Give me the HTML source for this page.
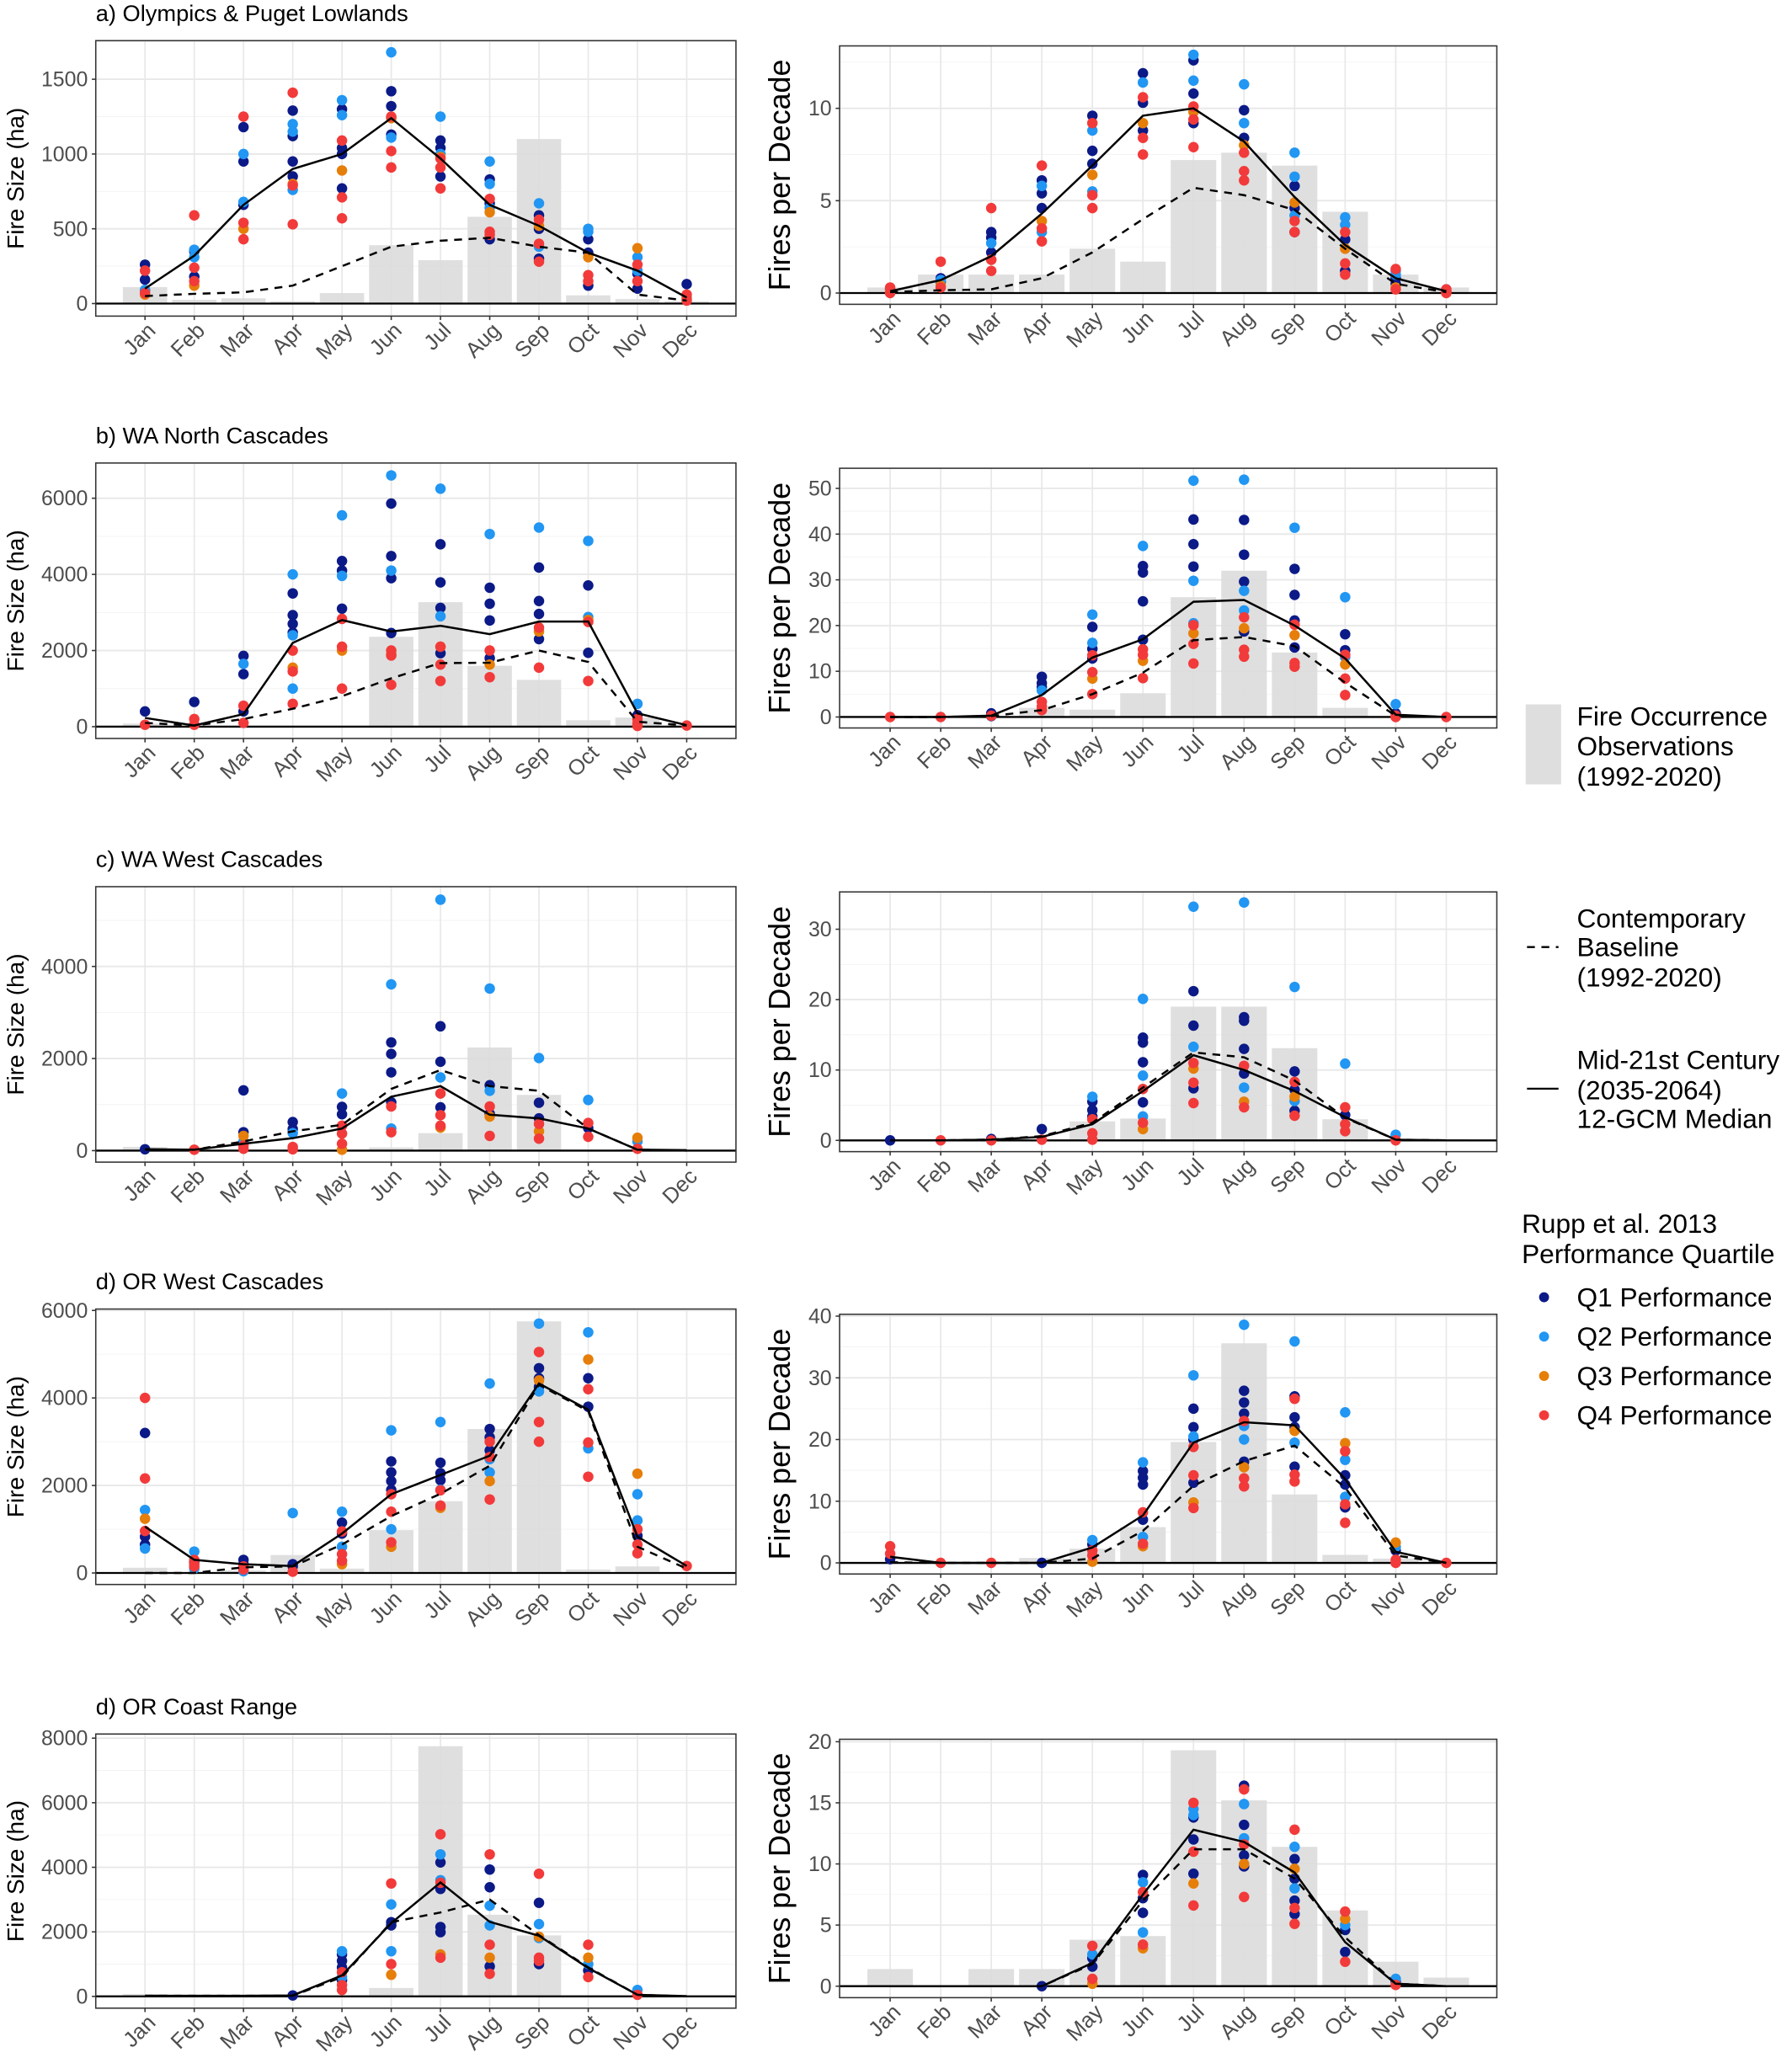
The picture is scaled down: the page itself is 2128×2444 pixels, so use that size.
<!DOCTYPE html>
<html><head><meta charset="utf-8"><style>
html,body{margin:0;padding:0;background:#fff;}
svg{display:block;font-family:"Liberation Sans",Arial,sans-serif;}
</style></head><body>
<svg id="fig" xmlns="http://www.w3.org/2000/svg" width="2128" height="2444" viewBox="0 0 1366 1569" preserveAspectRatio="none">
<rect x="0" y="0" width="1366" height="1569" fill="#fff"/>
<g id="panels"></g>
<g id="legend">
 <rect x="1163" y="537" width="27" height="61" fill="#dedede"/>
 <text font-size="20.3" fill="#000"><tspan x="1202" y="553">Fire Occurrence</tspan><tspan x="1202" y="576">Observations</tspan><tspan x="1202" y="599">(1992-2020)</tspan></text>
 <line x1="1164" y1="722" x2="1188" y2="722" stroke="#000" stroke-width="1.5" stroke-dasharray="6,5"/>
 <text font-size="20.3" fill="#000"><tspan x="1202" y="707">Contemporary</tspan><tspan x="1202" y="729">Baseline</tspan><tspan x="1202" y="752">(1992-2020)</tspan></text>
 <line x1="1164" y1="830" x2="1188" y2="830" stroke="#000" stroke-width="1.5"/>
 <text font-size="20.3" fill="#000"><tspan x="1202" y="815">Mid-21st Century</tspan><tspan x="1202" y="838">(2035-2064)</tspan><tspan x="1202" y="860">12-GCM Median</tspan></text>
 <text font-size="20.3" fill="#000"><tspan x="1160" y="940">Rupp et al. 2013</tspan><tspan x="1160" y="963">Performance Quartile</tspan></text>
 <circle cx="1177" cy="989" r="3.8" fill="#0b1a87"/>
 <text x="1202" y="996" font-size="20.3">Q1 Performance</text>
 <circle cx="1177" cy="1019" r="3.8" fill="#2196f3"/>
 <text x="1202" y="1026" font-size="20.3">Q2 Performance</text>
 <circle cx="1177" cy="1049" r="3.8" fill="#e67e0a"/>
 <text x="1202" y="1056" font-size="20.3">Q3 Performance</text>
 <circle cx="1177" cy="1079" r="3.8" fill="#f23a3a"/>
 <text x="1202" y="1086" font-size="20.3">Q4 Performance</text>
</g>
</svg>
<script>
const months=["Jan","Feb","Mar","Apr","May","Jun","Jul","Aug","Sep","Oct","Nov","Dec"];
const aL_bars=[110,25,35,15,70,390,290,580,1100,55,30,15];
const aL_base=[50,65,75,120,250,380,420,440,380,340,60,20];
const aL_fut=[100,320,660,900,1000,1240,970,660,520,340,220,40];
const aL_q1=[[260,160,90],[350,180],[1180,950,660],[1290,1120,950,850],[1300,1040,770,1000],[1420,1320,1130],[1090,1040,850],[830,670,430],[590,500,300],[430,340,120],[200,100],[130]];
const aL_q2=[[90],[360,310],[1000,680],[1200,1150,760],[1360,1260],[1680,1240,1110],[1250,1000],[950,800,640],[670,380],[500,480],[310,220],[40]];
const aL_q3=[[60],[120],[500],[800],[890],[1240],[980],[610],[520],[310],[370],[30]];
const aL_q4=[[220,70],[590,240,150],[1250,540,430],[1410,790,530],[1090,710,570],[1250,1020,910],[970,910,770],[700,480,460],[560,400,280],[190,150],[260,150],[60,20]];
const aR_bars=[0.3,1.0,1.0,1.0,2.4,1.7,7.2,7.6,6.9,4.4,1.0,0.3];
const aR_base=[0.05,0.15,0.2,0.8,2.2,4.0,5.7,5.3,4.5,2.4,0.5,0.05];
const aR_fut=[0.1,0.7,2.0,4.3,6.9,9.6,10.0,8.2,5.2,2.6,0.8,0.1];
const aR_q1=[[0.2],[0.8,0.6],[3.3,3.0,2.2],[6.1,5.4,4.6],[9.6,7.7,7.0],[11.9,10.3,8.8],[12.6,10.8,9.2],[9.9,8.4],[5.8,4.6,3.3],[2.9,1.2],[0.8,0.5],[0.1]];
const aR_q2=[[0.2],[0.7],[2.7],[5.8,3.3],[8.8,5.5],[11.4],[12.9,11.5],[11.3,9.2],[7.6,6.3,4.2],[4.1,3.7],[1.2,1.0],[0.2]];
const aR_q3=[[0.1],[0.4],[1.8],[3.9],[6.4],[9.2],[9.8],[8.0],[4.9],[2.4],[0.3],[0.1]];
const aR_q4=[[0.3,0.0],[1.7,0.3],[4.6,1.8,1.2],[6.9,3.5,2.8],[9.2,5.3,4.6],[10.6,8.4,7.5],[10.1,9.4,7.9],[7.6,6.6,6.1],[3.9,3.3],[3.3,1.6,1.0],[1.3,0.2],[0.2,0]];
const bL_bars=[80,0,0,0,20,2360,3270,1600,1230,170,240,0];
const bL_base=[100,30,200,470,800,1270,1670,1680,2000,1700,130,30];
const bL_fut=[230,30,330,2200,2800,2500,2650,2430,2760,2760,350,40];
const bL_q1=[[400],[650],[1860,1380,400],[3500,2930,2700,2470],[4350,4100,3100],[5860,4480,3900,2460],[4790,3790,3120,1930],[3650,3230,2790,1800],[4180,3300,2960,2300],[3710,1940],[300],[]];
const bL_q2=[[],[],[1650],[4000,2400,1000],[5550,3960],[6600,4100],[6250,2900],[5060],[5230],[4880,2880],[600],[]];
const bL_q3=[[],[],[],[1550],[2000],[1900],[2100],[1630],[2500],[2800],[],[]];
const bL_q4=[[50],[200,50],[550,100],[2000,1450,600],[2830,2100,1000],[2000,1870,1100],[2100,1630,1200],[2000,1300],[2600,1550],[2750,1200],[200,80,20],[30]];
const bR_bars=[0,0,0,2.0,1.6,5.2,26.2,32,14.1,2.0,0,0];
const bR_base=[0,0,0.2,1.5,5,9.7,16.8,17.5,15.5,7.5,0.3,0];
const bR_fut=[0,0,0.3,4.8,13,17,25.2,25.6,20,12.8,0.5,0];
const bR_q1=[[],[],[0.8,0.2],[8.8,7.4,6.5],[19.7,14.9,12.8],[33.0,31.6,25.3,16.9],[43.2,37.8,32.9],[43.1,35.5,29.6,18.7],[32.4,26.7,21.1,15.2],[18.1,14.6],[0.8],[]];
const bR_q2=[[],[],[],[5.8],[22.4,16.2],[37.4],[51.7,29.8,20.5],[51.9,27.6,23.3],[41.4],[26.2,13.1],[2.8],[]];
const bR_q3=[[],[],[],[],[8.4],[12.3],[18.3],[19.4],[17.9],[11.5],[],[]];
const bR_q4=[[0],[0],[0.3],[3.3,2.3,1.5],[13.5,9.8,5.0],[14.8,13.6,8.5],[20.1,16.0,11.7],[21.8,14.7,13.2],[20.2,11.8,11.0],[13.6,8.4,4.8],[0.3,0],[0]];
const cL_bars=[80,0,0,0,0,70,380,2240,1210,0,30,0];
const cL_base=[20,20,200,420,560,1340,1750,1400,1300,480,20,0];
const cL_fut=[30,20,150,270,480,1170,1400,780,700,480,20,10];
const cL_q1=[[30],[],[1310,400],[620,470],[950,790],[2350,2100,1700,1050],[2700,1930,940],[1420,800],[1040,700],[490],[],[]];
const cL_q2=[[],[],[200],[380],[1240],[3610,480],[5450,1590],[3520,1300],[2010],[1100],[200],[]];
const cL_q3=[[],[],[320],[],[20],[],[500],[740],[420],[],[280],[]];
const cL_q4=[[],[20],[110,40],[80,30],[540,370,150],[960,400],[1240,770,540],[960,320],[580,260],[600,300],[40],[]];
const cR_bars=[0,0,0,0,2.7,3.1,19,19,13.1,3.0,0.2,0.2];
const cR_base=[0,0,0.1,0.6,2.5,7.5,12.5,11.8,8.5,3.2,0.1,0];
const cR_fut=[0,0,0.1,0.5,2.3,7.0,12.1,10.0,7.0,3.3,0.1,0];
const cR_q1=[[0],[],[0.2],[1.6],[5.5,4.3,3.4],[14.6,13.9,11.1,5.4],[21.2,16.3,7.4],[17.5,17.0,13.0,9.5],[9.8,7.2,4.2],[3.6],[],[]];
const cR_q2=[[],[],[],[],[6.2],[20.1,9.2,3.4],[33.2,13.3],[33.8,7.5],[21.8,5.6],[10.9],[0.8],[]];
const cR_q3=[[],[],[],[],[],[1.6],[10.2],[5.5],[6.2],[],[],[]];
const cR_q4=[[],[0],[0],[0.1],[3.0,1.0,0.1],[7.3,2.5],[11.0,8.2,5.3],[10.6,4.7],[8.3,3.5],[4.7,2.3,1.3],[0],[]];
const dL_bars=[120,0,60,410,100,980,1640,3290,5750,80,150,0];
const dL_base=[0,0,130,150,650,1300,1810,2450,4300,3700,600,100];
const dL_fut=[1060,300,200,160,900,1800,2240,2680,4330,3730,830,160];
const dL_q1=[[3200,830,650],[250],[300,200],[200,150],[1150,900],[2550,2300,2100,1900],[2520,2280,2120],[3290,3100,2800],[4680,4450,4250],[4450,3800],[850],[]];
const dL_q2=[[1440,560],[490,100],[40],[1370],[1400,600],[3260,1000],[3450,1900],[4330,2600,2300],[5700,4150],[5500,2850],[1800,1200],[]];
const dL_q3=[[1240],[],[],[],[200],[600],[1490],[2100],[4400],[4880],[2270],[]];
const dL_q4=[[4000,2160,960],[300,200,150],[150,80],[30],[950,430,280],[1800,1400,700],[1890,1540],[3000,2650,1680],[5050,3450,3000],[4200,2980,2200],[1000,650,450],[160]];
const dR_bars=[0,0,0,0.8,2.3,5.8,19.6,35.6,11.1,1.3,0.7,0];
const dR_base=[0.1,0,0,0,0.7,5.2,12.5,16.5,19.0,12.2,1.2,0];
const dR_fut=[1.0,0,0,0,2.5,7.7,19.5,22.8,22.3,13.6,1.8,0];
const dR_q1=[[0.6],[],[],[0],[3.0],[14.9,13.8,12.7,7.0],[25,22,20,13],[27.9,26.0,24.2,16.4],[27,23.6,22.0,15.6],[14.2,12.7,9.0],[2.0],[]];
const dR_q2=[[],[],[],[],[3.7],[16.3,4.2],[30.4,20.5],[38.6,22.2,20.0],[35.9,19.5],[24.4,16.7,10.7],[2.6],[]];
const dR_q3=[[],[],[],[],[0.2],[2.7],[9.8],[15.5],[21.4],[19.4],[3.3],[]];
const dR_q4=[[2.7,1.5],[0],[0],[],[2.0,1.2],[8.2,3.1],[18.8,14.2,8.9],[23.0,13.7,12.4],[26.6,14.3,13.2],[18.1,9.5,6.5],[0.5,0],[0]];
const eL_bars=[70,0,0,0,0,260,7750,2530,1890,0,0,0];
const eL_base=[20,20,20,20,600,2300,2600,3000,1900,900,50,0];
const eL_fut=[20,20,20,30,650,2270,3530,2310,1880,880,50,10];
const eL_q1=[[],[],[],[30],[1300,1100,900,500],[2300,2200],[4150,3330,2150,1990],[3930,3380,930],[2900,1000],[800],[],[]];
const eL_q2=[[],[],[],[],[1400,600],[2850,1400],[4400,3600],[2810,2200],[2240,1810],[1000],[200],[]];
const eL_q3=[[],[],[],[],[],[670],[1300],[1200],[1850],[1200],[],[]];
const eL_q4=[[],[],[],[],[750,350,200],[3500,1000],[5020,3520,1200],[4400,1600,700],[3800,1200,1100],[1600,600],[50],[]];
const eR_bars=[1.4,0,1.4,1.4,3.8,4.1,19.3,15.2,11.4,6.2,2.0,0.7];
const eR_base=[0,0,0,0,1.8,7.0,11.2,11.2,8.8,4.0,0.2,0];
const eR_fut=[0,0,0,0,1.9,7.5,12.8,11.8,9.3,3.6,0.2,0];
const eR_q1=[[],[],[],[0],[2.3,1.6],[9.1,7.2,6.0],[13.8,12.0,9.2],[16.4,13.2,10.7,9.8],[10.4,8.8,7.0,5.9],[4.6,2.8],[0.4],[]];
const eR_q2=[[],[],[],[],[2.6],[8.5,4.4],[14.5,14.0],[14.9,12.1],[11.4,8.0],[5.0],[0.6],[]];
const eR_q3=[[],[],[],[],[0.2],[3.1],[8.4],[10.0],[9.6],[5.5],[],[]];
const eR_q4=[[],[],[],[],[3.3,0.6],[7.7,3.4],[15.0,11.0,6.6],[16.1,11.6,7.3],[12.8,6.4,5.1],[6.1,2.0],[0.1],[]];
const aL_ticks=[0,500,1000,1500], aR_ticks=[0,5,10];
const bL_ticks=[0,2000,4000,6000], bR_ticks=[0,10,20,30,40,50];
const cL_ticks=[0,2000,4000], cR_ticks=[0,10,20,30];
const dL_ticks=[0,2000,4000,6000], dR_ticks=[0,10,20,30,40];
const eL_ticks=[0,2000,4000,6000,8000], eR_ticks=[0,5,10,15,20];
const titles=["a) Olympics & Puget Lowlands","b) WA North Cascades","c) WA West Cascades","d) OR West Cascades","d) OR Coast Range"];

const NS="http://www.w3.org/2000/svg";
const root=document.getElementById('panels');
const COLORS=["#0b1a87","#2196f3","#e67e0a","#f23a3a"];
function mk(tag,attrs,parent){const e=document.createElementNS(NS,tag);for(const k in attrs)e.setAttribute(k,attrs[k]);(parent||root).appendChild(e);return e;}

function panel(name,box,dom,ticks,bars,base,fut,qs,ytitle,side){
  const g=mk('g',{});
  
  
  const [x0,y0,x1,y1]=box;const [d0,d1]=dom;
  const bw=(x1-x0)/13;
  const X=i=>x0+bw*(i+1);
  const Y=v=>y1-(v-d0)/(d1-d0)*(y1-y0);
  const st=ticks[1]-ticks[0];
  for(let i=-1;i<ticks.length;i++){const mv=(i<0?ticks[0]:ticks[i])+(i<0?-st/2:st/2);const yy=Y(mv);if(yy>y0&&yy<y1)mk('line',{x1:x0,x2:x1,y1:yy,y2:yy,stroke:'#f3f3f3','stroke-width':0.6},g);}
  ticks.forEach(t=>{mk('line',{x1:x0,x2:x1,y1:Y(t),y2:Y(t),stroke:'#e8e8e8','stroke-width':1.2},g);});
  months.forEach((m,i)=>{mk('line',{x1:X(i),x2:X(i),y1:y0,y2:y1,stroke:'#e8e8e8','stroke-width':1.1},g);});
  bars.forEach((v,i)=>{if(v<=0)return;const r=mk('rect',{x:X(i)-bw*0.45,width:bw*0.9,y:Y(v),height:Y(0)-Y(v),fill:'#dcdcdc','fill-opacity':0.9},g);
    
    });
  mk('line',{x1:x0,x2:x1,y1:Y(0),y2:Y(0),stroke:'#000','stroke-width':1.5},g);
  qs.forEach((q,qi)=>{q.forEach((arr,i)=>{arr.forEach(v=>{const c=mk('circle',{cx:X(i),cy:Y(v),r:4,fill:COLORS[qi]},g);
    
    });});});
  const pb=mk('polyline',{points:base.map((v,i)=>X(i)+','+Y(v)).join(' '),fill:'none',stroke:'#000','stroke-width':1.6,'stroke-dasharray':'6,5'},g);
  
  
  const pf=mk('polyline',{points:fut.map((v,i)=>X(i)+','+Y(v)).join(' '),fill:'none',stroke:'#000','stroke-width':1.6},g);
  
  
  mk('rect',{x:x0,y:y0,width:x1-x0,height:y1-y0,fill:'none',stroke:'#333','stroke-width':1},g);
  ticks.forEach(t=>{mk('line',{x1:x0-3,x2:x0,y1:Y(t),y2:Y(t),stroke:'#333','stroke-width':1},g);
    const tx=mk('text',{x:x0-6,y:Y(t)+5.5,'text-anchor':'end','font-size':16,fill:'#4d4d4d'},g);tx.textContent=t;
    
    });
  months.forEach((m,i)=>{mk('line',{x1:X(i),x2:X(i),y1:y1,y2:y1+3,stroke:'#333','stroke-width':1},g);
    const tx=mk('text',{transform:'translate('+(X(i)+9)+','+(y1+12)+') rotate(-45)','text-anchor':'end','font-size':16.5,fill:'#4d4d4d'},g);tx.textContent=m;
    
    });
  const cy=(y0+y1)/2;
  const yt=mk('text',{transform:'translate('+(side=='L'?18:602)+','+cy+') rotate(-90)','text-anchor':'middle','font-size':side=='L'?18:23,fill:'#000'},g);
  yt.textContent=ytitle;
  
  
}
const rowsL=[[31,241],[353,563],[676,886],[998,1208],[1322,1531]];
const rowsR=[[35,232],[357,555],[680,878],[1002,1200],[1326,1523]];
const domsL=[[-84,1758],[-310,6925],[-250,5732],[-263,6032],[-364,8128]];
const domsR=[[-0.61,13.38],[-2.4,54.4],[-1.6,35.3],[-1.8,40.3],[-0.94,20.2]];
const L=[[aL_bars,aL_base,aL_fut,[aL_q1,aL_q2,aL_q3,aL_q4],aL_ticks],[bL_bars,bL_base,bL_fut,[bL_q1,bL_q2,bL_q3,bL_q4],bL_ticks],[cL_bars,cL_base,cL_fut,[cL_q1,cL_q2,cL_q3,cL_q4],cL_ticks],[dL_bars,dL_base,dL_fut,[dL_q1,dL_q2,dL_q3,dL_q4],dL_ticks],[eL_bars,eL_base,eL_fut,[eL_q1,eL_q2,eL_q3,eL_q4],eL_ticks]];
const R=[[aR_bars,aR_base,aR_fut,[aR_q1,aR_q2,aR_q3,aR_q4],aR_ticks],[bR_bars,bR_base,bR_fut,[bR_q1,bR_q2,bR_q3,bR_q4],bR_ticks],[cR_bars,cR_base,cR_fut,[cR_q1,cR_q2,cR_q3,cR_q4],cR_ticks],[dR_bars,dR_base,dR_fut,[dR_q1,dR_q2,dR_q3,dR_q4],dR_ticks],[eR_bars,eR_base,eR_fut,[eR_q1,eR_q2,eR_q3,eR_q4],eR_ticks]];
const keys=['a','b','c','d','e'];
for(let r=0;r<5;r++){
  const t=mk('text',{x:73,y:rowsL[r][0]-15,'font-size':17.5,fill:'#000'});
  t.textContent=titles[r];
  
  
  const l=L[r],rr=R[r];
  panel(keys[r]+'-fire-size',[73,rowsL[r][0],561,rowsL[r][1]],domsL[r],l[4],l[0],l[1],l[2],l[3],'Fire Size (ha)','L');
  panel(keys[r]+'-fires-per-decade',[640,rowsR[r][0],1141,rowsR[r][1]],domsR[r],rr[4],rr[0],rr[1],rr[2],rr[3],'Fires per Decade','R');
}
</script>
</body></html>
